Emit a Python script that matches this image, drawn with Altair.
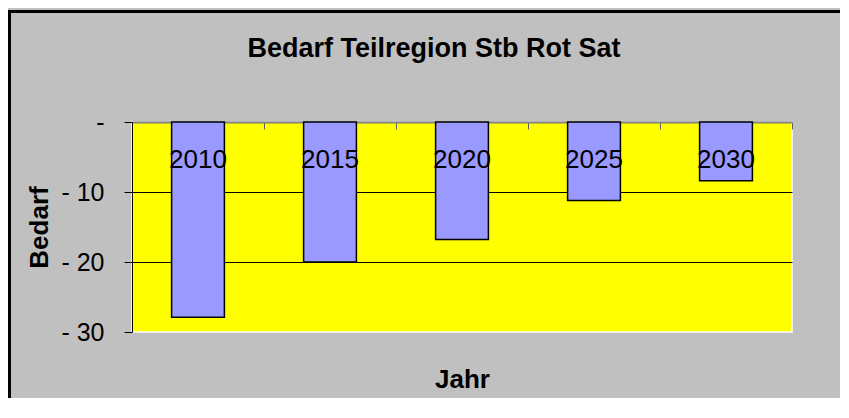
import altair as alt
import pandas as pd

# Data
years = ["2010", "2015", "2020", "2025", "2030"]
bedarf = [-27.9, -20.0, -16.8, -11.2, -8.4]

df = pd.DataFrame({"Jahr": years, "Bedarf": bedarf})

FONT = "Liberation Sans, Arial, sans-serif"
W, H = 660, 210
PAD = {"left": 124, "top": 114, "right": 48, "bottom": 66}

xscale = alt.Scale(paddingInner=0, paddingOuter=0)

bars = alt.Chart(df).mark_bar(
    width=alt.RelativeBandSize(0.4),
    color="#9999FF",
    stroke="#000000",
    strokeWidth=1.5,
).encode(
    x=alt.X(
        "Jahr:N",
        scale=xscale,
        sort=years,
        axis=alt.Axis(
            orient="bottom",
            offset=-H,
            title=None,
            labels=False,
            ticks=True,
            tickSize=7,
            tickColor="#606060",
            tickWidth=1,
            bandPosition=1,
            tickExtra=True,
            domain=True,
            domainColor="#808080",
            domainWidth=2,
            grid=False,
        ),
    ),
    y=alt.Y(
        "Bedarf:Q",
        scale=alt.Scale(domain=[-30, 0], nice=False),
        axis=alt.Axis(
            values=[0, -10, -20, -30],
            title="Bedarf",
            titleFont=FONT,
            titleFontSize=26,
            titleFontWeight="bold",
            titleColor="#000000",
            titleX=-93,
            titleY=H / 2,
            titleAlign="center",
            titleBaseline="middle",
            labelExpr="datum.value == 0 ? '-\u00a0' : '- ' + abs(datum.value)",
            labelFont=FONT,
            labelFontSize=25,
            labelColor="#000000",
            labelPadding=20,
            labelBaseline="middle",
            tickSize=8,
            tickColor="#000000",
            domainColor="#000000",
            domainWidth=1,
            grid=True,
            gridColor="#000000",
            gridWidth=1,
            gridOpacity={
                "condition": {"test": "datum.value == 0 || datum.value == -30", "value": 0},
                "value": 1,
            },
        ),
    ),
)

labels = alt.Chart(df).mark_text(
    font=FONT,
    fontSize=26,
    color="#000000",
    baseline="alphabetic",
    align="center",
    dy=46,
).encode(
    x=alt.X(
        "Jahr:N",
        scale=xscale,
        sort=years,
        axis=alt.Axis(
            orient="bottom",
            title="Jahr",
            titleFont=FONT,
            titleFontSize=26,
            titleFontWeight="bold",
            titleColor="#000000",
            titleY=55,
            titleBaseline="alphabetic",
            labels=False,
            ticks=False,
            domain=False,
            grid=False,
        ),
    ),
    y=alt.Y(datum=0, type="quantitative"),
    text="Jahr:N",
)

# decorative chart-area border (left and top edges only; the rest is cut off)
border_data = alt.Data(values=[{"f": 1}])
left_border = alt.Chart(border_data).mark_rule(
    color="#000000", strokeWidth=3, clip=False
).encode(
    x=alt.value(-122.5),
    y=alt.value(-112),
    y2=alt.value(H + PAD["bottom"]),
)
top_border = alt.Chart(border_data).mark_rule(
    color="#000000", strokeWidth=3, clip=False
).encode(
    y=alt.value(-110.5),
    x=alt.value(-124),
    x2=alt.value(W + PAD["right"]),
)

chart = (
    alt.layer(left_border, top_border, bars, labels)
    .resolve_axis(x="independent")
    .properties(
        width=W,
        height=H,
        autosize=alt.AutoSizeParams(type="none"),
        padding=PAD,
        background="#C0C0C0",
        title=alt.TitleParams(
            text="Bedarf Teilregion Stb Rot Sat",
            font=FONT,
            fontSize=27,
            fontWeight="bold",
            color="#000000",
            anchor="middle",
            frame="group",
            baseline="alphabetic",
            offset=0,
            dy=75,
            dx=-28,
        ),
    )
    .configure_view(fill="#FFFF00", stroke="#FFFFFF", strokeWidth=1.5)
)

chart.save("out.html", embed_options={"renderer": "svg", "actions": False})
